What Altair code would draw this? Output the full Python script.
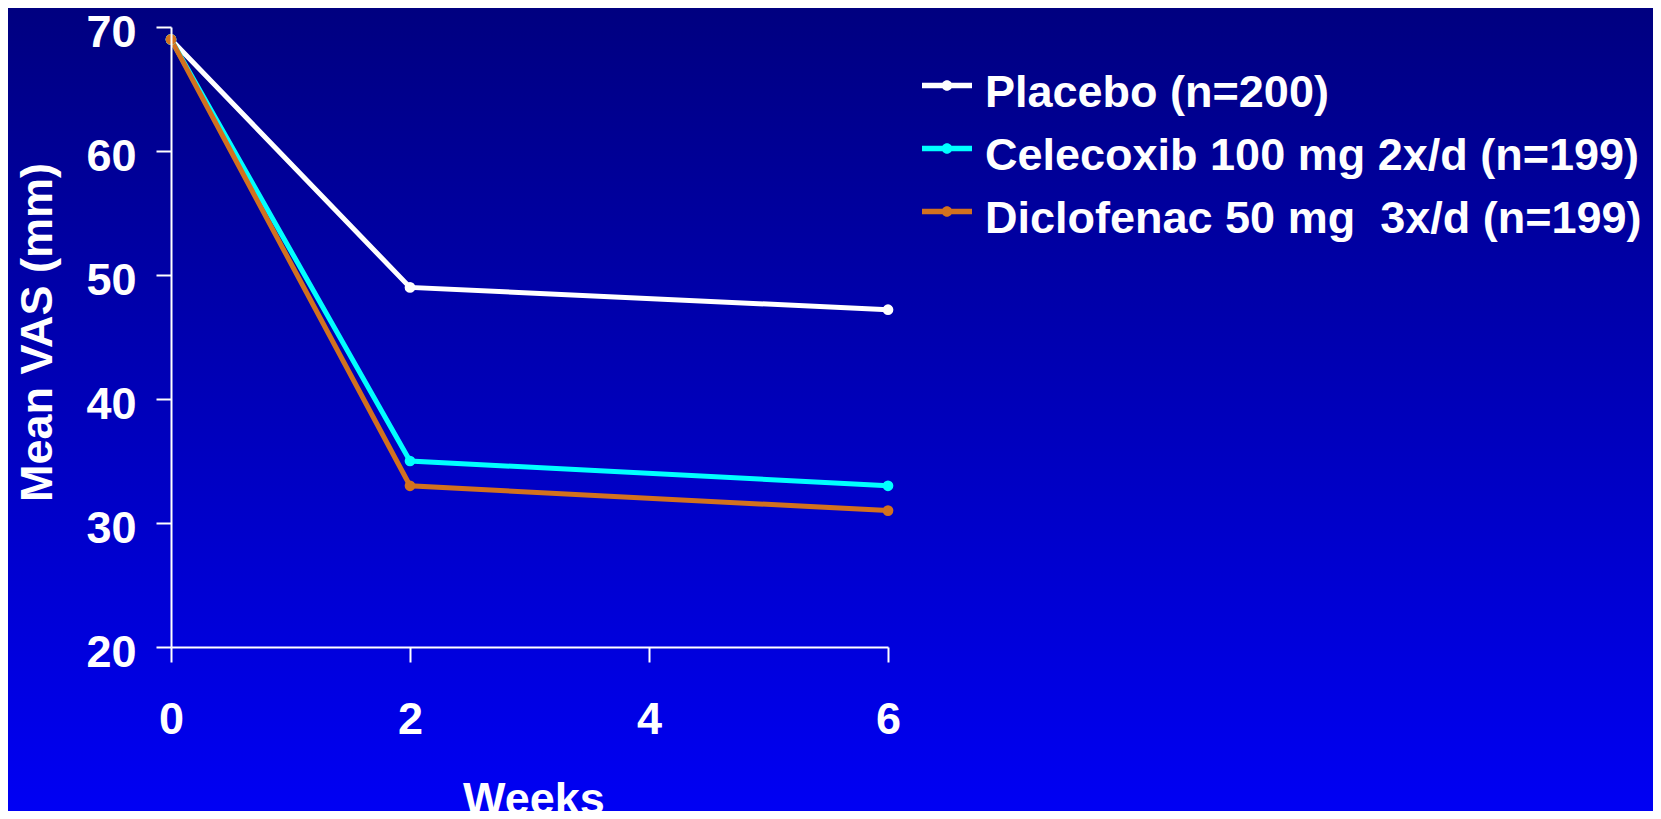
import altair as alt
import pandas as pd

weeks = [0, 2, 6]
series_names = ["Placebo (n=200)", "Celecoxib 100 mg 2x/d (n=199)", "Diclofenac 50 mg\u00a0 3x/d (n=199)"]
placebo = [69, 49, 47.2]
celecoxib = [69, 35, 33]
diclofenac = [69, 33, 31]
series_colors = ["#FFFFFF", "#00FFFF", "#D2711E"]
x_ticks = [0, 2, 4, 6]
y_ticks = [20, 30, 40, 50, 60, 70]

rows = []
for name, vals in zip(series_names, [placebo, celecoxib, diclofenac]):
    for w, v in zip(weeks, vals):
        rows.append({"week": w, "vas": v, "series": name})
df = pd.DataFrame(rows)

W, H = 717, 620
PAD = {"left": 163, "top": 19, "right": 765, "bottom": 164}
FONT = "Liberation Sans"

color_scale = alt.Scale(domain=series_names, range=series_colors)
x_enc = alt.X("week:Q", scale=alt.Scale(domain=[0, 6], nice=False, zero=False),
              axis=alt.Axis(values=x_ticks, format="d", title="Weeks", grid=False, zindex=2,
                            domainColor="white", domainWidth=2, tickColor="white",
                            tickWidth=2, tickSize=15, labelColor="white", labelFlush=False,
                            labelFont=FONT, labelFontSize=45, labelFontWeight="bold",
                            labelBaseline="alphabetic", labelPadding=71,
                            titleColor="white", titleFont=FONT, titleFontSize=45,
                            titleFontWeight="bold", titleBaseline="alphabetic",
                            titleY=166, titleX=W / 2 + 4))
y_enc = alt.Y("vas:Q", scale=alt.Scale(domain=[20, 70], nice=False, zero=False),
              axis=alt.Axis(values=y_ticks, format="d", title="Mean VAS (mm)", grid=False, zindex=2,
                            domainColor="white", domainWidth=2, tickColor="white",
                            tickWidth=2, tickSize=15, labelColor="white", labelFlush=False,
                            labelFont=FONT, labelFontSize=45, labelFontWeight="bold",
                            labelPadding=20, labelOffset=5, labelBaseline="middle",
                            titleColor="white", titleFont=FONT, titleFontSize=45,
                            titleFontWeight="bold", titleX=-111, titleY=305))

bg = alt.Chart(alt.Data(values=[{"k": 1}])).mark_rect(
    color=alt.LinearGradient(
        gradient="linear", x1=0, y1=0, x2=0, y2=1,
        stops=[alt.GradientStop(color="#000080", offset=0),
               alt.GradientStop(color="#0000F4", offset=1)]),
).encode(
    x=alt.value(-PAD["left"]), x2=alt.value(W + PAD["right"]),
    y=alt.value(-PAD["top"]), y2=alt.value(H + PAD["bottom"]),
)

sym_path = "M-1,-0.41H1V-0.19H-1Z M-0.21,-0.3A0.21,0.21 0 1,1 0.21,-0.3A0.21,0.21 0 1,1 -0.21,-0.3Z"
legend = alt.Legend(title=None, orient="none", legendX=751, legendY=41,
                    symbolType=sym_path, symbolSize=2500,
                    symbolStrokeWidth=0, symbolOpacity=1,
                    labelFont=FONT, labelFontSize=45,
                    labelFontWeight="bold", labelColor="white",
                    labelLimit=2000, labelOffset=13, rowPadding=15,
                    padding=0, zindex=2)

lines = alt.Chart(df).mark_line(strokeWidth=5).encode(
    x=x_enc, y=y_enc,
    color=alt.Color("series:N", scale=color_scale, legend=legend),
    detail="series:N",
)

points = alt.Chart(df).mark_point(filled=True, size=115, opacity=1).encode(
    x="week:Q", y="vas:Q",
    color=alt.Color("series:N", scale=color_scale, legend=legend),
)

chart = alt.layer(bg, lines, points).properties(
    width=W, height=H,
    autosize=alt.AutoSizeParams(type="none"),
    padding=PAD,
    background="#000080",
).configure_view(stroke=None)

chart.save("out.html", embed_options={"renderer": "svg", "actions": False})
